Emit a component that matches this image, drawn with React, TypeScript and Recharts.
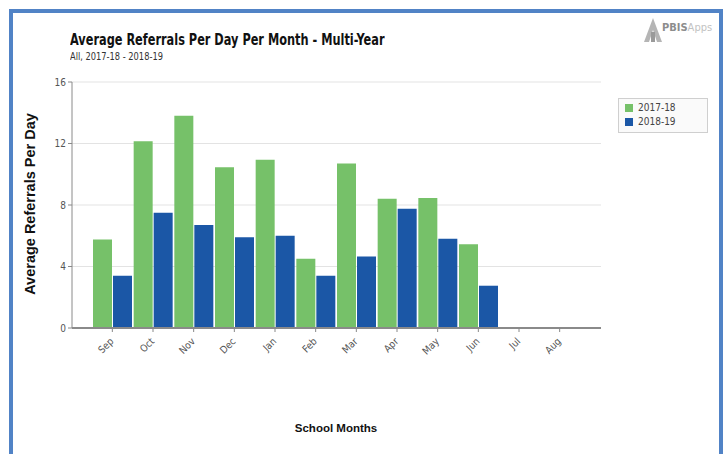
import React from "react";
import {
  BarChart,
  Bar,
  XAxis,
  YAxis,
  CartesianGrid,
} from "recharts";

const months = ["Sep", "Oct", "Nov", "Dec", "Jan", "Feb", "Mar", "Apr", "May", "Jun", "Jul", "Aug"];
const year1718 = [5.75, 12.15, 13.8, 10.45, 10.95, 4.5, 10.7, 8.4, 8.45, 5.45, null, null];
const year1819 = [3.4, 7.5, 6.7, 5.9, 6.0, 3.4, 4.65, 7.75, 5.8, 2.75, null, null];
const yTicks = [0, 4, 8, 12, 16];
const seriesNames = ["2017-18", "2018-19"];

const GREEN = "#76c169";
const BLUE = "#1b57a6";
const NARROW = '"Liberation Sans Narrow", "DejaVu Sans Condensed", "Liberation Sans", Arial, sans-serif';
const SANS = '"Liberation Sans", Arial, sans-serif';

const data = months.map((m, i) => ({
  month: m,
  [seriesNames[0]]: year1718[i],
  [seriesNames[1]]: year1819[i],
}));

const MonthTick = (props: any) => {
  const { x, y, payload } = props;
  return (
    <text
      x={x + 2}
      y={y + 8}
      transform={`rotate(-45, ${x + 2}, ${y + 8})`}
      textAnchor="end"
      fontSize={10}
      fontFamily={NARROW}
      fill="#555"
    >
      {payload.value}
    </text>
  );
};

export default function App() {
  return (
    <div style={{ position: "absolute", left: 0, top: 0, width: 723, height: 454, background: "#fff", overflow: "hidden" }}>
      <div
        style={{
          position: "absolute",
          left: 9,
          top: 9,
          width: 714,
          height: 445,
          boxSizing: "border-box",
          borderTop: "4px solid #5183c6",
          borderLeft: "4px solid #5183c6",
          borderRight: "4px solid #5183c6",
        }}
      />
      <div
        style={{
          position: "absolute",
          left: 70,
          top: 31,
          fontFamily: NARROW,
          fontWeight: "bold",
          fontSize: 15,
          color: "#111",
          whiteSpace: "nowrap",
          transform: "scaleX(0.84)",
          transformOrigin: "0 0",
        }}
      >
        Average Referrals Per Day Per Month - Multi-Year
      </div>
      <div
        style={{
          position: "absolute",
          left: 70,
          top: 51,
          fontFamily: NARROW,
          fontSize: 10,
          color: "#333",
          whiteSpace: "nowrap",
          transform: "scaleX(0.92)",
          transformOrigin: "0 0",
        }}
      >
        All, 2017-18 - 2018-19
      </div>
      <div style={{ position: "absolute", left: 644, top: 18, display: "flex", alignItems: "flex-end" }}>
        <svg width={18} height={24}>
          <polygon points="9,0 18,24 13,24 9,12 5,24 0,24" fill="#b5b5b5" />
          <rect x={7} y={14} width={4} height={10} fill="#9a9a9a" />
        </svg>
        <span style={{ fontFamily: NARROW, fontSize: 11, color: "#8d8d8d", fontWeight: "bold", marginBottom: 8 }}>PBIS</span>
        <span style={{ fontFamily: NARROW, fontSize: 11, color: "#c2c2c2", marginBottom: 8 }}>Apps</span>
      </div>
      <div
        style={{
          position: "absolute",
          left: 30,
          top: 204,
          transform: "translate(-50%, -50%) rotate(-90deg)",
          fontFamily: SANS,
          fontWeight: "bold",
          fontSize: 14.5,
          color: "#111",
          whiteSpace: "nowrap",
        }}
      >
        Average Referrals Per Day
      </div>
      <div
        style={{
          position: "absolute",
          left: 336,
          top: 428,
          transform: "translate(-50%, -50%)",
          fontFamily: SANS,
          fontWeight: "bold",
          fontSize: 11.5,
          color: "#111",
          whiteSpace: "nowrap",
        }}
      >
        School Months
      </div>
      <div
        style={{
          position: "absolute",
          left: 618,
          top: 98,
          border: "1px solid #cfcfcf",
          background: "#fafafa",
          width: 90,
          padding: "2px 0 3px 6px",
          fontFamily: NARROW,
          fontSize: 10,
          color: "#444",
          lineHeight: "14px",
          boxSizing: "border-box",
        }}
      >
        {seriesNames.map((name, i) => (
          <div key={name} style={{ display: "flex", alignItems: "center" }}>
            <span style={{ width: 8, height: 8, background: i === 0 ? GREEN : BLUE, display: "inline-block", marginRight: 5 }} />
            {name}
          </div>
        ))}
      </div>
      <div style={{ position: "absolute", left: 0, top: 0 }}>
        <BarChart
          width={723}
          height={454}
          data={data}
          margin={{ top: 82, right: 122, bottom: 26, left: 42 }}
          barCategoryGap={1}
          barGap={1}
        >
          <CartesianGrid vertical={false} stroke="#e3e3e3" />
          <XAxis
            dataKey="month"
            height={100}
            padding={{ left: 20, right: 21 }}
            tick={<MonthTick />}
            tickLine={{ stroke: "#888" }}
            tickSize={4}
            axisLine={{ stroke: "#8a8a8a", strokeWidth: 2 }}
            interval={0}
          />
          <YAxis
            width={30}
            domain={[0, 16]}
            ticks={yTicks}
            tick={{ fontSize: 10, fill: "#555", fontFamily: NARROW }}
            tickLine={{ stroke: "#888" }}
            tickSize={4}
            axisLine={{ stroke: "#8a8a8a", strokeWidth: 1 }}
          />
          <Bar dataKey={seriesNames[0]} fill={GREEN} isAnimationActive={false} />
          <Bar dataKey={seriesNames[1]} fill={BLUE} isAnimationActive={false} />
        </BarChart>
      </div>
    </div>
  );
}
